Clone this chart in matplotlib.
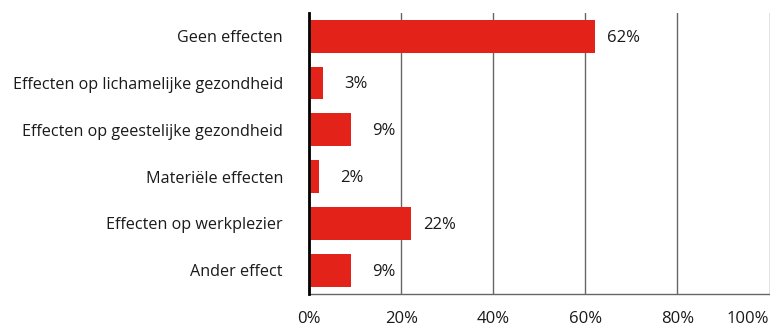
import numpy as np
import matplotlib.pyplot as plt

# categories top to bottom, values in percent
categories = ['Geen effecten', 'Effecten op lichamelijke gezondheid',
              'Effecten op geestelijke gezondheid', 'Materiële effecten',
              'Effecten op werkplezier', 'Ander effect']
values = [62, 3, 9, 2, 22, 9]
xticks = [0, 20, 40, 60, 80, 100]
xtick_labels = ['0%', '20%', '40%', '60%', '80%', '100%']

plt.rcParams['font.family'] = ['Open Sans', 'DejaVu Sans']

fig = plt.figure(figsize=(7.7, 3.28), dpi=100)
ax = fig.add_axes([309.3 / 770, 1 - 293.7 / 328, (769.5 - 309.3) / 770, (293.7 - 12.7) / 328])

y = np.arange(len(categories))
ax.barh(y, values, height=0.7, color='#e32219', zorder=3)
ax.set_ylim(len(categories) - 0.5, -0.5)
ax.set_xlim(0, 100)

# value labels, right-aligned a fixed distance after each bar
for yi, v in zip(y, values):
    ax.annotate(f'{v}%', xy=(v, yi), xytext=(32.4, -1), textcoords='offset points',
                ha='right', va='center', fontsize=12, color='#1a1a1a')

ax.set_yticks(y)
ax.set_yticklabels(categories, fontsize=11.6, color='#1a1a1a')
ax.set_xticks(xticks)
ax.set_xticklabels(xtick_labels, fontsize=12, color='#1a1a1a')
ax.get_xticklabels()[-1].set_horizontalalignment('right')
ax.tick_params(axis='y', length=0, pad=19)
ax.tick_params(axis='x', length=0, pad=12.5)

ax.grid(axis='x', color='#666666', linewidth=1, zorder=0)
for s in ['top', 'right']:
    ax.spines[s].set_visible(False)
ax.spines['left'].set_color('black')
ax.spines['left'].set_linewidth(2)
ax.spines['left'].set_zorder(5)
ax.spines['bottom'].set_color('#666666')
ax.spines['bottom'].set_linewidth(1)

fig.savefig('out.png', dpi=100)
